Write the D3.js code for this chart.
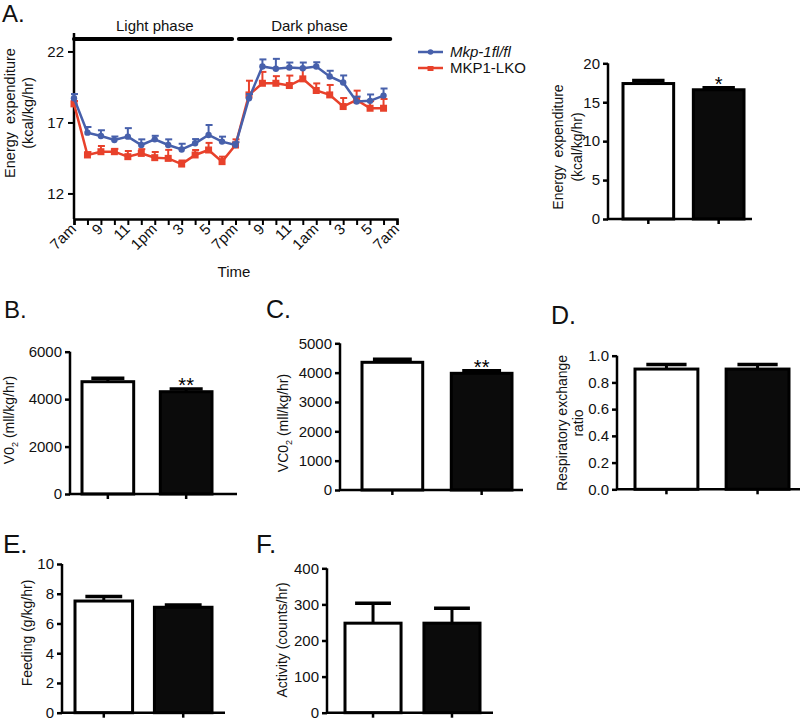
<!DOCTYPE html>
<html><head><meta charset="utf-8">
<script src="https://cdn.jsdelivr.net/npm/d3@7"></script>
<style>body{margin:0;background:#fff}svg{font-family:"Liberation Sans",Arial,sans-serif}</style>
</head><body>
<svg id="c" width="800" height="723"></svg>
<script>
// ---------- DATA ----------
const timePoints = [0,1,2,3,4,5,6,7,8,9,10,11,12,13,14,15,16,17,18,19,20,21,22,23];
const tickHours = [0,2,4,6,8,10,12,14,16,18,20,22,24];
const tickLabels = ["7am","9","11","1pm","3","5","7pm","9","11","1am","3","5","7am"];
const yTicksA = [12,17,22];
const flMean = [18.7,16.28,16.05,15.76,16.0,15.41,15.81,15.41,15.1,15.53,16.12,15.65,15.41,18.7,20.94,20.78,20.87,20.82,20.94,20.24,19.81,18.47,18.52,18.89];
const flErr  = [0.3,0.4,0.4,0.25,0.6,0.4,0.25,0.4,0.4,0.3,0.7,0.35,0.2,0.3,0.5,0.7,0.35,0.4,0.3,0.4,0.5,0.35,0.45,0.5];
const lkoMean = [18.31,14.71,14.94,14.94,14.59,14.82,14.52,14.47,14.07,14.71,15.06,14.24,15.41,18.94,19.76,19.76,19.6,20.07,19.25,18.94,18.12,18.59,18.0,18.0];
const lkoErr  = [0.2,0.2,0.4,0.2,0.4,0.3,0.4,0.6,0.25,0.35,0.5,0.35,0.4,1.0,0.8,0.5,0.7,0.75,0.5,0.7,0.6,0.65,0.5,0.65];
const seriesNames = ["Mkp-1fl/fl","MKP1-LKO"];
const groups = ["Mkp-1fl/fl","MKP1-LKO"];
const eeMean = [17.4,16.6],   eeErr = [0.4,0.25],  eeSig = ["","*"];
const vo2Mean = [4735,4313],  vo2Err = [145,115],  vo2Sig = ["","**"];
const vco2Mean = [4352,3977], vco2Err = [105,90],  vco2Sig = ["","**"];
const rerMean = [0.9,0.9],    rerErr = [0.035,0.035], rerSig = ["",""];
const feedMean = [7.51,7.09], feedErr = [0.3,0.15], feedSig = ["",""];
const actMean = [248,248],    actErr = [55,41],    actSig = ["",""];

// ---------- DRAW ----------
const svg = d3.select("#c");
const BLUE = "#4760ab", RED = "#e8412b";
const FONT = 15, LFONT = 14;

function panelLetter(t, x, y, size){
  svg.append("text").attr("x",x).attr("y",y).attr("font-size",size).attr("fill","#111").text(t);
}

// ===== Panel A: line chart =====
(function(){
  const x = d3.scaleLinear().domain([0,24]).range([74,397]);
  const y = d3.scaleLinear().domain([10.2,23.3]).range([219,33]);
  const g = svg.append("g");
  const xAxis = d3.axisBottom(x).tickValues(d3.range(0,25,1)).tickSize(6).tickFormat("");
  const gx = g.append("g").attr("transform","translate(0,219)").call(xAxis);
  gx.select(".domain").attr("stroke","#000").attr("stroke-width",2.5);
  gx.selectAll(".tick line").attr("stroke","#000").attr("stroke-width",2);
  tickHours.forEach((h,i)=>{
    g.append("text").attr("transform",`translate(${x(h)+3},${230}) rotate(-45)`)
      .attr("text-anchor","end").attr("font-size",FONT).attr("fill","#111").text(tickLabels[i]);
  });
  const yAxis = d3.axisLeft(y).tickValues(yTicksA).tickSize(6).tickPadding(4);
  const gy = g.append("g").attr("transform","translate(74,0)").call(yAxis);
  gy.select(".domain").attr("stroke","#000").attr("stroke-width",2.5).attr("d",`M0,${y(23.3)}V${y(10.2)}`);
  gy.selectAll(".tick line").attr("stroke","#000").attr("stroke-width",2);
  gy.selectAll(".tick text").attr("font-size",FONT).attr("fill","#111").attr("font-family","Liberation Sans, Arial");
  g.append("line").attr("x1",x(0)).attr("x2",x(11.75)).attr("y1",39).attr("y2",39).attr("stroke","#000").attr("stroke-width",4).attr("stroke-linecap","round");
  g.append("line").attr("x1",x(12.25)).attr("x2",x(23.5)).attr("y1",39).attr("y2",39).attr("stroke","#000").attr("stroke-width",4).attr("stroke-linecap","round");
  g.append("text").attr("x",x(6)).attr("y",31).attr("text-anchor","middle").attr("font-size",FONT).attr("fill","#111").text("Light phase");
  g.append("text").attr("x",x(17.5)).attr("y",31).attr("text-anchor","middle").attr("font-size",FONT).attr("fill","#111").text("Dark phase");
  g.append("text").attr("x",234).attr("y",277).attr("text-anchor","middle").attr("font-size",FONT).attr("fill","#111").text("Time");
  g.append("text").attr("transform","translate(15,113) rotate(-90)").attr("text-anchor","middle").attr("font-size",LFONT+0.5).attr("fill","#111").attr("xml:space","preserve").text("Energy  expenditure");
  g.append("text").attr("transform","translate(33,113) rotate(-90)").attr("text-anchor","middle").attr("font-size",LFONT+0.5).attr("fill","#111").text("(kcal/kg/hr)");

  const line = d3.line().x((d,i)=>x(timePoints[i])).y(d=>y(d));
  function series(mean, err, color, shape){
    const s = g.append("g");
    mean.forEach((m,i)=>{
      const xx = x(timePoints[i]), yt = y(m+err[i]);
      s.append("line").attr("x1",xx).attr("x2",xx).attr("y1",y(m)).attr("y2",yt).attr("stroke",color).attr("stroke-width",2);
      s.append("line").attr("x1",xx-3).attr("x2",xx+4).attr("y1",yt).attr("y2",yt).attr("stroke",color).attr("stroke-width",2);
    });
    s.append("path").datum(mean).attr("d",line).attr("fill","none").attr("stroke",color).attr("stroke-width",2.5);
    mean.forEach((m,i)=>{
      const xx = x(timePoints[i]);
      if(shape==="circle") s.append("circle").attr("cx",xx).attr("cy",y(m)).attr("r",3.2).attr("fill",color);
      else s.append("rect").attr("x",xx-3.5).attr("y",y(m)-3.5).attr("width",7).attr("height",7).attr("fill",color);
    });
  }
  series(lkoMean, lkoErr, RED, "square");
  series(flMean, flErr, BLUE, "circle");

  const lg = svg.append("g");
  lg.append("line").attr("x1",418).attr("x2",443).attr("y1",52).attr("y2",52).attr("stroke",BLUE).attr("stroke-width",2.5);
  lg.append("circle").attr("cx",430.5).attr("cy",52).attr("r",2.8).attr("fill",BLUE);
  lg.append("text").attr("x",450).attr("y",57).attr("font-size",FONT).attr("font-style","italic").attr("fill","#111").text(seriesNames[0]);
  lg.append("line").attr("x1",418).attr("x2",443).attr("y1",68).attr("y2",68).attr("stroke",RED).attr("stroke-width",2.5);
  lg.append("rect").attr("x",427.5).attr("y",66).attr("width",6).attr("height",5).attr("fill",RED);
  lg.append("text").attr("x",450).attr("y",73).attr("font-size",FONT).attr("fill","#111").text(seriesNames[1]);
})();

// ===== Bar panels =====
function barPanel(o){
  const g = svg.append("g");
  const y = d3.scaleLinear().domain([0,o.max]).range([o.y0,o.yTop]);
  const x = d3.scaleBand().domain(groups).range(o.bars).paddingInner(o.pi).paddingOuter(0);
  o.mean.forEach((m,i)=>{
    const bx = x(groups[i]), bw = x.bandwidth(), cx = bx+bw/2;
    const fill = i===0 ? "#fff" : "#0b0b0b";
    const yt = y(m+o.err[i]);
    g.append("line").attr("x1",cx).attr("x2",cx).attr("y1",y(m)).attr("y2",yt).attr("stroke","#000").attr("stroke-width",3);
    g.append("line").attr("x1",cx-bw*0.32).attr("x2",cx+bw*0.32).attr("y1",yt).attr("y2",yt).attr("stroke","#000").attr("stroke-width",3.5);
    g.append("rect").attr("x",bx).attr("y",y(m)).attr("width",bw).attr("height",o.y0-y(m))
      .attr("fill",fill).attr("stroke","#000").attr("stroke-width",3);
    if(o.sig[i]) g.append("text").attr("x",cx).attr("y",yt+3).attr("text-anchor","middle").attr("font-size",20).attr("fill","#000").text(o.sig[i]);
  });
  const ya = d3.axisLeft(y).tickValues(o.ticks).tickSize(5).tickPadding(3).tickFormat(o.fmt||d3.format("d"));
  const gy = g.append("g").attr("transform",`translate(${o.ax},0)`).call(ya);
  gy.select(".domain").attr("stroke","#000").attr("stroke-width",2.5).attr("d",`M0,${o.yTop}V${o.y0}`);
  gy.selectAll(".tick line").attr("stroke","#000").attr("stroke-width",2.5);
  gy.selectAll(".tick text").attr("font-size",FONT).attr("fill","#111").attr("font-family","Liberation Sans, Arial");
  g.append("line").attr("x1",o.ax-1).attr("x2",o.axEnd).attr("y1",o.y0).attr("y2",o.y0).attr("stroke","#000").attr("stroke-width",2.5);
  groups.forEach(gr=>{
    const cx = x(gr)+x.bandwidth()/2;
    g.append("line").attr("x1",cx).attr("x2",cx).attr("y1",o.y0).attr("y2",o.y0+5).attr("stroke","#000").attr("stroke-width",2.5);
  });
  o.labels.forEach(l=>{
    const t = g.append("text").attr("transform",`translate(${l.x},${l.y}) rotate(-90)`).attr("text-anchor","middle")
      .attr("font-size",LFONT).attr("fill","#111").attr("xml:space","preserve");
    l.parts.forEach(p=>{
      const ts = t.append("tspan").text(p.t);
      if(p.sub) ts.attr("font-size",9).attr("dy",4);
      if(p.after) ts.attr("dy",-4);
    });
  });
}

barPanel({ax:608,axEnd:752,y0:219,yTop:63.3,max:20,ticks:[0,5,10,15,20],bars:[623,744],pi:0.28,
  mean:eeMean,err:eeErr,sig:eeSig,
  labels:[{x:563,y:147,parts:[{t:"Energy  expenditure"}]},{x:582,y:147,parts:[{t:"(kcal/kg/hr)"}]}]});
barPanel({ax:70,axEnd:237,y0:494,yTop:351.7,max:6000,ticks:[0,2000,4000,6000],bars:[82,212],pi:0.34,
  mean:vo2Mean,err:vo2Err,sig:vo2Sig,
  labels:[{x:14,y:420,parts:[{t:"V0"},{t:"2",sub:true},{t:" (mll/kg/hr)",after:true}]}]});
barPanel({ax:340,axEnd:523,y0:490,yTop:343.3,max:5000,ticks:[0,1000,2000,3000,4000,5000],bars:[362,512],pi:0.32,
  mean:vco2Mean,err:vco2Err,sig:vco2Sig,
  labels:[{x:288,y:423,parts:[{t:"VC0"},{t:"2",sub:true},{t:" (mll/kg/hr)",after:true}]}]});
barPanel({ax:617,axEnd:800,y0:489.3,yTop:355.7,max:1.0,ticks:[0,0.2,0.4,0.6,0.8,1.0],bars:[635,789],pi:0.31,fmt:d3.format(".1f"),
  mean:rerMean,err:rerErr,sig:rerSig,
  labels:[{x:567,y:423,parts:[{t:"Respiratory exchange"}]},{x:583,y:423,parts:[{t:"ratio"}]}]});
barPanel({ax:62,axEnd:225,y0:712.7,yTop:564,max:10,ticks:[0,2,4,6,8,10],bars:[75,212],pi:0.275,
  mean:feedMean,err:feedErr,sig:feedSig,
  labels:[{x:32,y:633,parts:[{t:"Feeding (g/kg/hr)"}]}]});
barPanel({ax:327,axEnd:493,y0:712.7,yTop:568.3,max:400,ticks:[0,100,200,300,400],bars:[345,480],pi:0.29,
  mean:actMean,err:actErr,sig:actSig,
  labels:[{x:287,y:640,parts:[{t:"Activity (counts/hr)"}]}]});

panelLetter("A.",2,22,24);
panelLetter("B.",4,318,24);
panelLetter("C.",266,318,25);
panelLetter("D.",551,324,25);
panelLetter("E.",3,553,26);
panelLetter("F.",256,553,26);
</script>
</body></html>
